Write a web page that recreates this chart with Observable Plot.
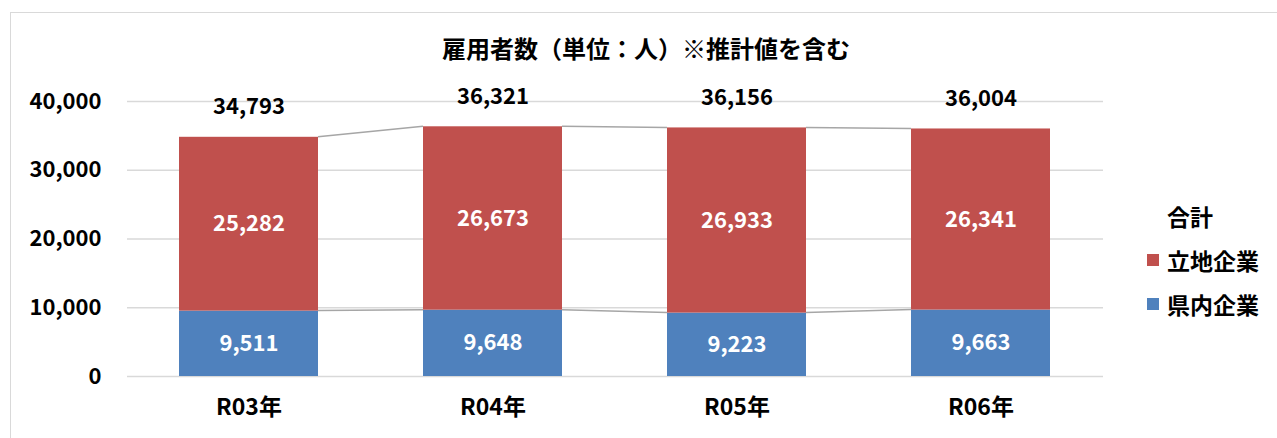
<!DOCTYPE html>
<html>
<head>
<meta charset="utf-8">
<script src="https://cdn.jsdelivr.net/npm/d3@7"></script>
<script src="https://cdn.jsdelivr.net/npm/@observablehq/plot@0.6"></script>
<style>
  html, body { margin: 0; padding: 0; background: #fff; }
  #wrap { position: relative; width: 1277px; height: 438px; overflow: hidden; font-family: "Noto Sans CJK JP", "Noto Sans", sans-serif; }
  #frame { position: absolute; left: 10px; top: 12px; width: 1400px; height: 600px; border: 1.5px solid #d9d9d9; box-sizing: border-box; }
  #title { position: absolute; left: 0; width: 1292px; top: 31px; text-align: center; font-size: 24px; font-weight: bold; color: #000; line-height: 34px; }
  #chart { position: absolute; left: 0; top: 0; }
  #legend { position: absolute; left: 1147px; top: 194px; font-size: 23px; font-weight: bold; color: #000; }
  .li { display: flex; align-items: center; height: 44px; }
  .sw { width: 12px; height: 12px; margin-right: 8px; }
</style>
</head>
<body>
<div id="wrap">
  <div id="frame"></div>
  <div id="chart"></div>
  <div id="title">雇用者数（単位：人）※推計値を含む</div>
  <div id="legend"></div>
</div>
<script>
const years = ["R03年", "R04年", "R05年", "R06年"];
const kennai = [9511, 9648, 9223, 9663];     // 県内企業
const ritchi = [25282, 26673, 26933, 26341]; // 立地企業
const totals = [34793, 36321, 36156, 36004]; // 合計
const seriesNames = ["立地企業", "県内企業"];
const seriesColors = ["#C0504D", "#4F81BD"];
const yTicks = [0, 10000, 20000, 30000, 40000];

const fmt = d3.format(",");
const long = [];
years.forEach((yr, i) => {
  long.push({year: yr, series: "県内企業", value: kennai[i]});
  long.push({year: yr, series: "立地企業", value: ritchi[i]});
});
const totalData = years.map((yr, i) => ({year: yr, total: totals[i], kennai: kennai[i]}));
const order = ["県内企業", "立地企業"];

function seriesLines(index, scales, values, dimensions, context) {
  const x = scales.x, y = scales.y;
  const bw = typeof x.bandwidth === "function" ? x.bandwidth() : scales.scales.x.bandwidth;
  const g = d3.create("svg:g").attr("stroke", "#A6A6A6").attr("stroke-width", 1.5).attr("fill", "none");
  for (let i = 0; i < years.length - 1; i++) {
    for (const key of ["kennai", "total"]) {
      g.append("line")
        .attr("x1", x(years[i]) + bw).attr("y1", y(totalData[i][key]))
        .attr("x2", x(years[i + 1])).attr("y2", y(totalData[i + 1][key]));
    }
  }
  return g.node();
}

const chart = Plot.plot({
  width: 1277,
  height: 438,
  marginLeft: 127,
  marginRight: 174,
  marginTop: 101,
  marginBottom: 62,
  style: {fontFamily: "'Noto Sans CJK JP', 'Noto Sans', sans-serif", fontSize: "22px", fontWeight: "bold", color: "#000", background: "transparent", overflow: "visible"},
  x: {domain: years, paddingInner: 0.43, paddingOuter: 0.215, label: null},
  y: {domain: [0, 40000], label: null},
  color: {domain: seriesNames, range: seriesColors},
  marks: [
    Plot.ruleY(yTicks, {stroke: "#d9d9d9", strokeWidth: 1.5}),
    Plot.axisY({ticks: yTicks, tickSize: 0, tickPadding: 26, tickFormat: fmt, fontSize: 22, fontWeight: "bold", fill: "#000"}),
    Plot.axisX({tickSize: 0, tickPadding: 22, fontSize: 23, fontWeight: "bold", fill: "#000"}),
    Plot.barY(long, {x: "year", y: "value", fill: "series", z: "series", order}),
    seriesLines,
    Plot.text(long, Plot.stackY({x: "year", y: "value", z: "series", order, text: d => fmt(d.value), fill: "white", fontSize: 22, fontWeight: "bold"})),
    Plot.text(totalData, {x: "year", y: "total", text: d => fmt(d.total), dy: -30, fill: "#000", fontSize: 22, fontWeight: "bold"})
  ]
});
document.getElementById("chart").appendChild(chart);

const legend = document.getElementById("legend");
const legendItems = [{name: "合計", color: null}, ...seriesNames.map((n, i) => ({name: n, color: seriesColors[i]}))];
legendItems.forEach(it => {
  const row = document.createElement("div");
  row.className = "li";
  const sw = document.createElement("span");
  sw.className = "sw";
  sw.style.background = it.color || "transparent";
  row.appendChild(sw);
  const t = document.createElement("span");
  t.textContent = it.name;
  row.appendChild(t);
  legend.appendChild(row);
});
</script>
</body>
</html>
